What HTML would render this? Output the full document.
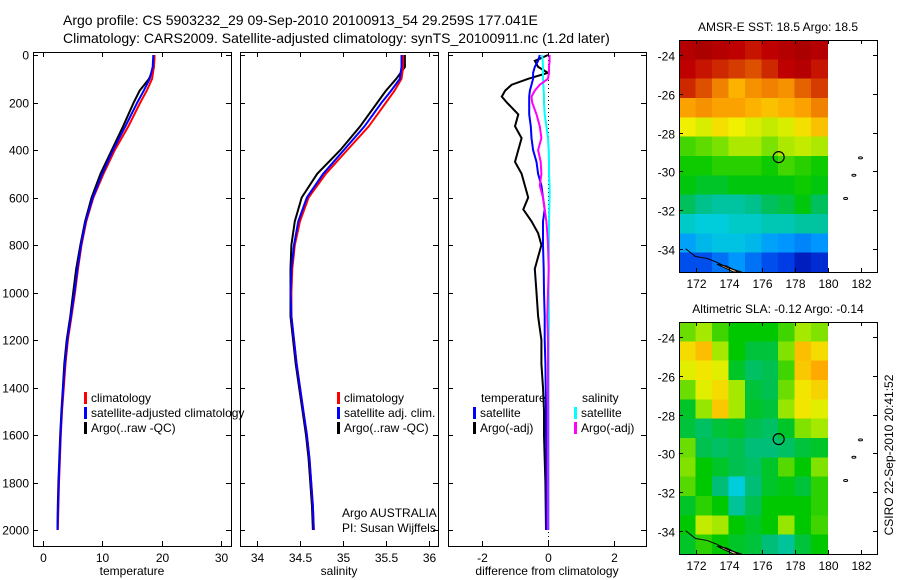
<!DOCTYPE html>
<html><head><meta charset="utf-8"><style>
html,body{margin:0;padding:0;background:#fff}
svg{display:block;font-family:"Liberation Sans",sans-serif}
</style></head><body>
<svg id="fig" width="900" height="580" viewBox="0 0 900 580" xmlns="http://www.w3.org/2000/svg">
<text x="63" y="25" font-size="14">Argo profile: CS 5903232_29 09-Sep-2010 20100913_54 29.259S 177.041E</text>
<text x="63" y="43" font-size="14">Climatology: CARS2009. Satellite-adjusted climatology: synTS_20100911.nc (1.2d later)</text>
<text transform="translate(893,455) rotate(-90)" text-anchor="middle" font-size="12">CSIRO 22-Sep-2010 20:41:52</text>
<g id="layer"></g>
</svg>
<script>
// ---- data ----
const depths = [0,50,100,150,200,300,400,500,600,700,800,900,1000,1100,1200,1300,1400,1500,1600,1700,1800,1900,2000];
const tempClim = [18.8,18.7,18.4,17.5,16.4,14.4,12.1,10.2,8.5,7.3,6.5,5.9,5.4,4.8,4.2,3.8,3.5,3.2,3.0,2.85,2.7,2.6,2.5];
const tempSat  = [18.6,18.5,18.0,17.0,15.9,13.9,11.8,10.0,8.4,7.2,6.4,5.8,5.3,4.7,4.1,3.7,3.4,3.15,2.95,2.8,2.65,2.55,2.45];
const tempArgo = [18.8,18.7,17.9,16.3,15.3,13.5,11.6,9.7,8.2,7.1,6.3,5.6,5.1,4.6,4.0,3.6,3.35,3.1,2.9,2.75,2.6,2.5,2.45];
const salClim = [35.70,35.70,35.68,35.60,35.50,35.30,35.05,34.80,34.60,34.50,34.44,34.41,34.40,34.40,34.43,34.46,34.50,34.54,34.58,34.61,34.63,34.65,34.66];
const salSat  = [35.68,35.68,35.66,35.56,35.45,35.25,35.01,34.77,34.58,34.48,34.43,34.40,34.39,34.40,34.43,34.46,34.50,34.54,34.58,34.61,34.63,34.65,34.66];
const salArgo = [35.72,35.72,35.62,35.50,35.40,35.20,34.97,34.70,34.52,34.44,34.40,34.39,34.39,34.39,34.42,34.45,34.49,34.53,34.57,34.60,34.62,34.64,34.65];
const diffDepths = [0,25,50,75,100,125,150,175,200,250,300,350,400,450,500,550,600,650,700,750,800,900,1000,1100,1200,1300,1400,1500,1600,1700,1800,1900,2000];
const tDiffArgo = [0,-0.4,-0.3,0,-0.6,-1.1,-1.3,-1.4,-1.25,-0.9,-1.0,-0.8,-0.9,-1.0,-0.8,-0.7,-0.6,-0.75,-0.5,-0.3,-0.2,-0.4,-0.35,-0.3,-0.2,-0.2,-0.15,-0.12,-0.12,-0.1,-0.08,-0.07,-0.06];
const tDiffSat = [-0.25,-0.3,-0.4,-0.45,-0.45,-0.5,-0.55,-0.57,-0.57,-0.57,-0.52,-0.5,-0.45,-0.35,-0.3,-0.2,-0.15,-0.1,-0.15,-0.15,-0.15,-0.13,-0.12,-0.1,-0.1,-0.08,-0.07,-0.06,-0.06,-0.05,-0.05,-0.05,-0.05];
const sDiffArgo = [0.05,0.05,0.03,0.03,0,-0.25,-0.4,-0.5,-0.48,-0.35,-0.25,-0.2,-0.3,-0.22,-0.2,-0.25,-0.15,-0.1,-0.05,-0.02,0,0.02,0,-0.02,0,0,0,0,0,0,0,0,0];
const sDiffSat = [-0.18,-0.16,-0.15,-0.15,-0.15,-0.14,-0.13,-0.12,-0.12,-0.1,-0.05,0,0.02,0.03,0.03,0.05,0.05,0.04,0.03,0.03,0.03,0.02,0.02,0.03,0.02,0.02,0.02,0.02,0.02,0.02,0.02,0.02,0.02];
const depthTicks = [0,200,400,600,800,1000,1200,1400,1600,1800,2000];
const tempTicks = [0,10,20,30];
const salTicks = [34,34.5,35,35.5,36];
const salTickLabels = ["34","34.5","35","35.5","36"];
const diffTicks = [-2,0,2];
const mapLons = [171,172,173,174,175,176,177,178,179,180];
const mapLats = [-23.2,-24.2,-25.2,-26.2,-27.2,-28.2,-29.2,-30.2,-31.2,-32.2,-33.2,-34.2,-35.2];
const lonTicks = [172,174,176,178,180,182];
const latTicks = [-24,-26,-28,-30,-32,-34];
const sstGrid = [
[20.8,20.9,20.8,20.7,20.6,20.7,20.8,20.9,20.8],
[20.7,20.6,20.5,20.4,20.3,20.5,20.7,20.8,20.6],
[20.5,20.3,20.0,19.7,19.9,20.0,19.9,20.2,20.4],
[19.8,19.9,19.8,19.8,19.7,19.6,19.7,19.8,20.0],
[19.3,19.2,19.4,19.3,19.2,19.1,19.2,19.4,19.6],
[18.6,18.7,18.8,19.0,19.0,18.8,19.0,19.1,19.0],
[18.4,18.4,18.5,18.5,18.5,18.4,18.6,18.5,18.4],
[18.3,18.2,18.2,18.3,18.3,18.3,18.3,18.4,18.3],
[18.0,17.8,17.7,17.7,17.8,18.0,18.1,18.3,18.0],
[17.5,17.4,17.4,17.5,17.5,17.6,17.6,17.7,17.7],
[17.0,17.2,17.3,17.3,17.2,17.0,16.9,16.8,16.9],
[16.5,16.5,16.7,16.9,16.7,16.5,16.4,16.2,16.3]];
const slaGrid = [
[0.05,0.08,0.03,0.0,0.0,0.0,0.03,0.08,0.06],
[0.15,0.18,0.08,0.0,-0.03,-0.03,0.06,0.18,0.15],
[0.12,0.14,0.12,-0.02,-0.05,-0.04,0.03,0.17,0.2],
[0.05,0.12,0.15,0.08,-0.03,-0.04,0.05,0.14,0.16],
[-0.02,0.07,0.17,0.08,-0.02,-0.03,0.07,0.14,0.12],
[-0.03,-0.05,-0.03,-0.02,-0.04,-0.05,-0.02,0.06,0.08],
[0.05,-0.04,-0.05,-0.04,-0.06,-0.06,-0.05,-0.03,-0.02],
[0.06,0.0,-0.02,-0.04,-0.05,-0.02,0.04,0.0,0.06],
[0.04,0.0,-0.06,-0.12,-0.06,-0.02,-0.01,-0.03,0.02],
[-0.02,0.02,0.0,-0.08,-0.04,0.0,0.0,0.0,0.02],
[0.0,0.1,0.08,0.0,-0.02,0.0,0.07,0.0,0.03],
[-0.02,0.02,0.0,-0.02,-0.03,-0.06,-0.08,-0.03,0.0]];
const argoLon = 177.041, argoLat = -29.259;

// ---- drawing ----
const NS="http://www.w3.org/2000/svg";
const layer=document.getElementById('layer');
function el(tag,attrs,parent){const e=document.createElementNS(NS,tag);for(const k in attrs)e.setAttribute(k,attrs[k]);(parent||layer).appendChild(e);return e;}
function txt(s,x,y,anchor,parent){const t=el('text',{x:x,y:y,'font-size':12,'text-anchor':anchor||'start'},parent);t.textContent=s;return t;}

const yTop=52,yBot=546;
const ySc=d=>55+d*0.2375;
function panel(name,x0,x1,xSc,ticks,labels,xlabel,showY){
  const g=el('g',{});
  
  
  const r=el('rect',{x:x0+0.5,y:yTop+0.5,width:x1-x0,height:yBot-yTop,fill:'none',stroke:'#000'},g);
  
  
  ticks.forEach((v,i)=>{const x=Math.round(xSc(v))+0.5;
    el('line',{x1:x,x2:x,y1:yTop,y2:yTop+5,stroke:'#000'},g);
    el('line',{x1:x,x2:x,y1:yBot,y2:yBot-5,stroke:'#000'},g);
    const t=txt(labels[i],x,yBot+16,'middle',g);
    
    });
  depthTicks.forEach(d=>{const y=Math.round(ySc(d))+0.5;
    el('line',{x1:x0,x2:x0+5,y1:y,y2:y,stroke:'#000'},g);
    el('line',{x1:x1,x2:x1-5,y1:y,y2:y,stroke:'#000'},g);
    if(showY){const t=txt(String(d),x0-4,y+4,'end',g);
      
      }});
  const xl=txt(xlabel,(x0+x1)/2,yBot+29,'middle',g);
  
  
  return g;
}
function line(g,xs,ds,xSc,color,name){
  const pts=xs.map((v,i)=>xSc(v).toFixed(1)+','+ySc(ds[i]).toFixed(1)).join(' ');
  const p=el('polyline',{points:pts,fill:'none',stroke:color,'stroke-width':2},g);
  
  
}
function legend(g,items,x,y){
  items.forEach((it,i)=>{const yy=y+i*15;
    if(it[1]){const m=el('rect',{x:x,y:yy-10,width:3,height:12,fill:it[1]},g);
      
      }
    const t=txt(it[0],x+(it[1]?7:8),yy,'start',g);
    
    });
}
// panel 1
const xT=v=>43+v*5.93;
const g1=panel('temperature-panel',33,231,xT,tempTicks,tempTicks.map(String),'temperature',true);
line(g1,tempArgo,depths,xT,'#000','temp-argo-line');
line(g1,tempClim,depths,xT,'#f00','temp-climatology-line');
line(g1,tempSat,depths,xT,'#00f','temp-satellite-line');
legend(g1,[['climatology','#f00'],['satellite-adjusted climatology','#00f'],['Argo(..raw -QC)','#000']],84,402);
// panel 2
const xS=v=>257+(v-34)*86;
const g2=panel('salinity-panel',240,438,xS,salTicks,salTickLabels,'salinity',false);
line(g2,salArgo,depths,xS,'#000','sal-argo-line');
line(g2,salClim,depths,xS,'#f00','sal-climatology-line');
line(g2,salSat,depths,xS,'#00f','sal-satellite-line');
legend(g2,[['climatology','#f00'],['satellite adj. clim.','#00f'],['Argo(..raw -QC)','#000']],337,402);
let t1=txt('Argo AUSTRALIA',342,517,'start',g2);


let t2=txt('PI: Susan Wijffels',342,532,'start',g2);


// panel 3
const xD=v=>548+v*33;
const g3=panel('difference-panel',448,646,xD,diffTicks,diffTicks.map(String),'difference from climatology',false);
const zl=el('line',{x1:xD(0)+0.5,x2:xD(0)+0.5,y1:yTop,y2:yBot,stroke:'#000','stroke-dasharray':'1,3'},g3);


line(g3,tDiffArgo,diffDepths,xD,'#000','temp-diff-argo-line');
line(g3,sDiffSat,diffDepths,xD,'#0ff','sal-diff-satellite-line');
line(g3,tDiffSat,diffDepths,xD,'#00f','temp-diff-satellite-line');
line(g3,sDiffArgo,diffDepths,xD,'#f0f','sal-diff-argo-line');
legend(g3,[['temperature',null],['satellite','#00f'],['Argo(-adj)','#000']],473,402);
legend(g3,[['salinity',null],['satellite','#0ff'],['Argo(-adj)','#f0f']],574,402);

// maps
const cmapColors=[[0,0,150],[0,60,230],[0,150,255],[0,205,220],[0,190,120],[0,200,0],[150,230,0],[240,240,0],[255,170,0],[225,90,0],[190,0,0],[160,0,0]];
function cmap(v,stops){
  if(v<=stops[0])return 'rgb('+cmapColors[0]+')';
  for(let i=1;i<stops.length;i++){ if(v<=stops[i]){const f=(v-stops[i-1])/(stops[i]-stops[i-1]);
    const a=cmapColors[i-1],b=cmapColors[i];return 'rgb('+a.map((c,k)=>Math.round(c+(b[k]-c)*f)).join(',')+')';}}
  return 'rgb('+cmapColors[cmapColors.length-1]+')';}
const sstStops=[16.0,16.4,16.9,17.4,17.9,18.35,18.9,19.3,19.75,20.25,20.7,21.0];
const slaStops=[-0.3,-0.24,-0.18,-0.12,-0.06,0.0,0.07,0.13,0.2,0.26,0.32,0.38];
function map(name,title,y0,grid,stops){
  const x0=679,x1=877,y1=y0+232;
  const mx=lon=>679+(lon-171)*16.5;
  const my=lat=>y0+(-23.2-lat)*19.33;
  const g=el('g',{});
  
  
  const tt=txt(title,778,y0-9,'middle',g);
  
  
  grid.forEach((row,i)=>row.forEach((v,j)=>{
    const x=mx(mapLons[j]),y=my(mapLats[i]);
    const c=el('rect',{x:x.toFixed(1),y:y.toFixed(1),width:(mx(mapLons[j+1])-x+0.3).toFixed(1),height:(my(mapLats[i+1])-y+0.3).toFixed(1),fill:cmap(v,stops),'shape-rendering':'crispEdges'},g);
    
    }));
  const land=el('polygon',{points:[[173.3,-34.8],[174.3,-35.2],[174.6,-35.2],[173.9,-34.9]].map(p=>mx(p[0])+','+my(p[1])).join(' '),fill:'#fc9',stroke:'#000','stroke-width':1},g);
  
  
  const cst=el('polyline',{points:[[171.4,-34.0],[172.0,-34.4],[172.7,-34.5],[173.3,-34.7],[174.0,-35.0],[174.8,-35.2]].map(p=>mx(p[0])+','+my(p[1])).join(' '),fill:'none',stroke:'#000'},g);
  
  
  [[182,-29.3],[181.6,-30.2],[181.1,-31.4]].forEach(p=>{const s=el('ellipse',{cx:mx(p[0]),cy:my(p[1]),rx:2,ry:1,fill:'none',stroke:'#000','stroke-width':1},g);
    
    });
  const circ=el('circle',{cx:mx(argoLon),cy:my(argoLat),r:5.5,fill:'none',stroke:'#000','stroke-width':1.2},g);
  
  
  const fr=el('rect',{x:x0+0.5,y:y0+0.5,width:x1-x0,height:y1-y0,fill:'none',stroke:'#000'},g);
  
  
  lonTicks.forEach(l=>{const x=Math.round(mx(l))+0.5;
    el('line',{x1:x,x2:x,y1:y0,y2:y0+4,stroke:'#000'},g);
    el('line',{x1:x,x2:x,y1:y1,y2:y1-4,stroke:'#000'},g);
    const t=txt(String(l),x,y1+16,'middle',g);
    
    });
  latTicks.forEach(l=>{const y=Math.round(my(l))+0.5;
    el('line',{x1:x0,x2:x0+4,y1:y,y2:y,stroke:'#000'},g);
    el('line',{x1:x1,x2:x1-4,y1:y,y2:y,stroke:'#000'},g);
    const t=txt(String(l),x0-4,y+5,'end',g);
    
    });
}
map('sst-map','AMSR-E SST: 18.5 Argo: 18.5',40,sstGrid,sstStops);
map('sla-map','Altimetric SLA: -0.12 Argo: -0.14',322,slaGrid,slaStops);
</script>
</body></html>
